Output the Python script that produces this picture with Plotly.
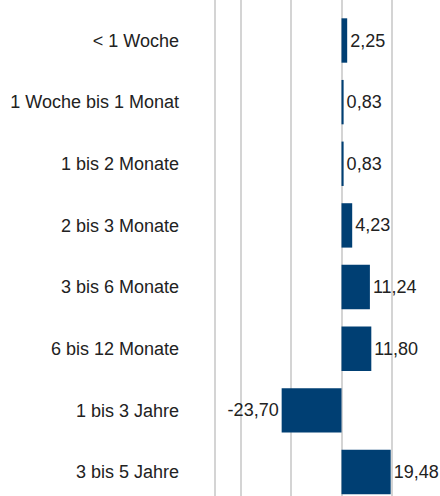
import plotly.graph_objects as go

categories = ["< 1 Woche", "1 Woche bis 1 Monat", "1 bis 2 Monate", "2 bis 3 Monate",
              "3 bis 6 Monate", "6 bis 12 Monate", "1 bis 3 Jahre", "3 bis 5 Jahre"]
values = [2.25, 0.83, 0.83, 4.23, 11.24, 11.80, -23.70, 19.48]
labels = [f"{v:.2f}".replace(".", ",") for v in values]
grid_vals = [-50, -40, -20, 0, 20]

fig = go.Figure(go.Bar(
    y=categories, x=values, orientation="h",
    marker=dict(color="#003f73", line=dict(width=0)),
    text=labels, textposition="outside", cliponaxis=False,
    textfont=dict(family="Liberation Sans, Arial", size=18, color="#222222"),
))

fig.update_layout(
    width=440, height=496,
    margin=dict(l=213, r=0, t=0, b=0, autoexpand=False),
    plot_bgcolor="white", paper_bgcolor="white",
    bargap=0.28, showlegend=False,
    font=dict(family="Liberation Sans, Arial", size=18, color="#222222"),
    xaxis=dict(range=[-50.89, 39.0], tickvals=grid_vals, showticklabels=False,
               showgrid=True, gridcolor="#d4d4d4", gridwidth=2, automargin=False,
               zeroline=True, zerolinecolor="#d4d4d4", zerolinewidth=2, fixedrange=True),
    yaxis=dict(range=[7.39, -0.657], showgrid=False, ticks="", ticklabelstandoff=33,
               automargin=False, tickfont=dict(size=18, color="#222222")),
)

fig.write_html("out.html", config={"displayModeBar": False},
               post_script="document.body.style.margin='0';document.body.style.overflow='hidden';")
